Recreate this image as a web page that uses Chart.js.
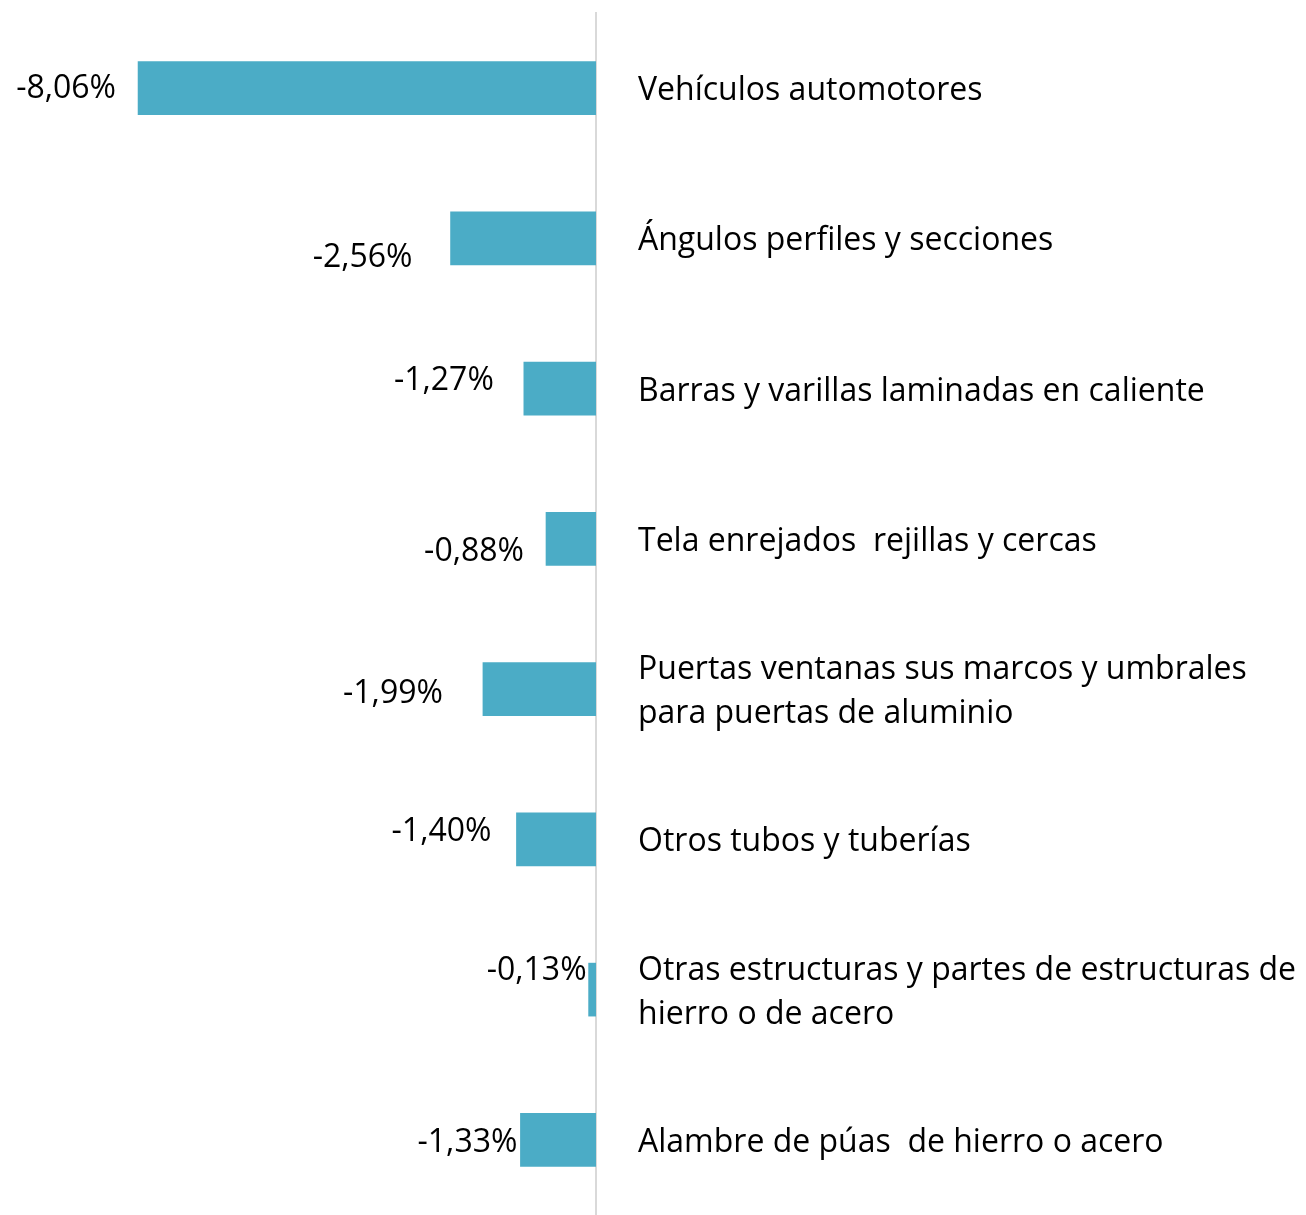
<!DOCTYPE html>
<html>
<head>
<meta charset="utf-8">
<script src="https://cdn.jsdelivr.net/npm/chart.js@4/dist/chart.umd.min.js"></script>
<style>
  html, body { margin: 0; padding: 0; background: #ffffff; }
  #wrap { width: 1306px; height: 1215px; position: relative; }
</style>
</head>
<body>
<div id="wrap"><canvas id="c" width="1306" height="1215"></canvas></div>
<script>
const categories = [
  ["Vehículos automotores"],
  ["Ángulos perfiles y secciones"],
  ["Barras y varillas laminadas en caliente"],
  ["Tela enrejados  rejillas y cercas"],
  ["Puertas ventanas sus marcos y umbrales", "para puertas de aluminio"],
  ["Otros tubos y tuberías"],
  ["Otras estructuras y partes de estructuras de", "hierro o de acero"],
  ["Alambre de púas  de hierro o acero"]
];
const values = [-8.06, -2.56, -1.27, -0.88, -1.99, -1.40, -0.13, -1.33];

// label nudges relative to the bar's end (as in the original manually-placed labels)
const labelNudgeX = [-22, -38, -30, -22, -40, -25, -2, -3];
const labelNudgeY = [0, 19, -9, 12, 4, -8, -20, 2];

const FONT = "'Open Sans', Lato, sans-serif";
const FONT_SIZE = 32;

const valueLabels = {
  id: 'valueLabels',
  afterDatasetsDraw(chart) {
    const ctx = chart.ctx;
    const meta = chart.getDatasetMeta(0);
    ctx.save();
    ctx.font = FONT_SIZE + 'px ' + FONT;
    ctx.fillStyle = '#000000';
    ctx.textAlign = 'right';
    ctx.textBaseline = 'middle';
    meta.data.forEach((bar, i) => {
      const txt = values[i].toFixed(2).replace('.', ',') + '%';
      ctx.fillText(txt, bar.x + labelNudgeX[i], bar.y + labelNudgeY[i] + 1);
    });
    ctx.restore();
  }
};

new Chart(document.getElementById('c'), {
  type: 'bar',
  data: {
    labels: categories,
    datasets: [{
      data: values,
      backgroundColor: '#4BACC6',
      borderWidth: 0,
      barThickness: 53
    }]
  },
  options: {
    indexAxis: 'y',
    responsive: false,
    animation: false,
    layout: { padding: { top: 13, bottom: -4, left: 0, right: 0 } },
    plugins: { legend: { display: false }, tooltip: { enabled: false } },
    scales: {
      x: {
        display: false,
        min: -10.49,
        max: 0
      },
      y: {
        position: 'right',
        grid: { display: false, drawTicks: false },
        border: { display: true, color: '#d9d9d9', width: 2 },
        ticks: {
          color: '#000000',
          padding: 42,
          labelOffset: 3,
          font: { family: FONT, size: FONT_SIZE, lineHeight: 1.38 },
          autoSkip: false
        },
        afterFit(scale) {
          scale.width = 710;
          scale.paddingTop = 0;
          scale.paddingBottom = 0;
        }
      }
    }
  },
  plugins: [valueLabels]
});
</script>
</body>
</html>
